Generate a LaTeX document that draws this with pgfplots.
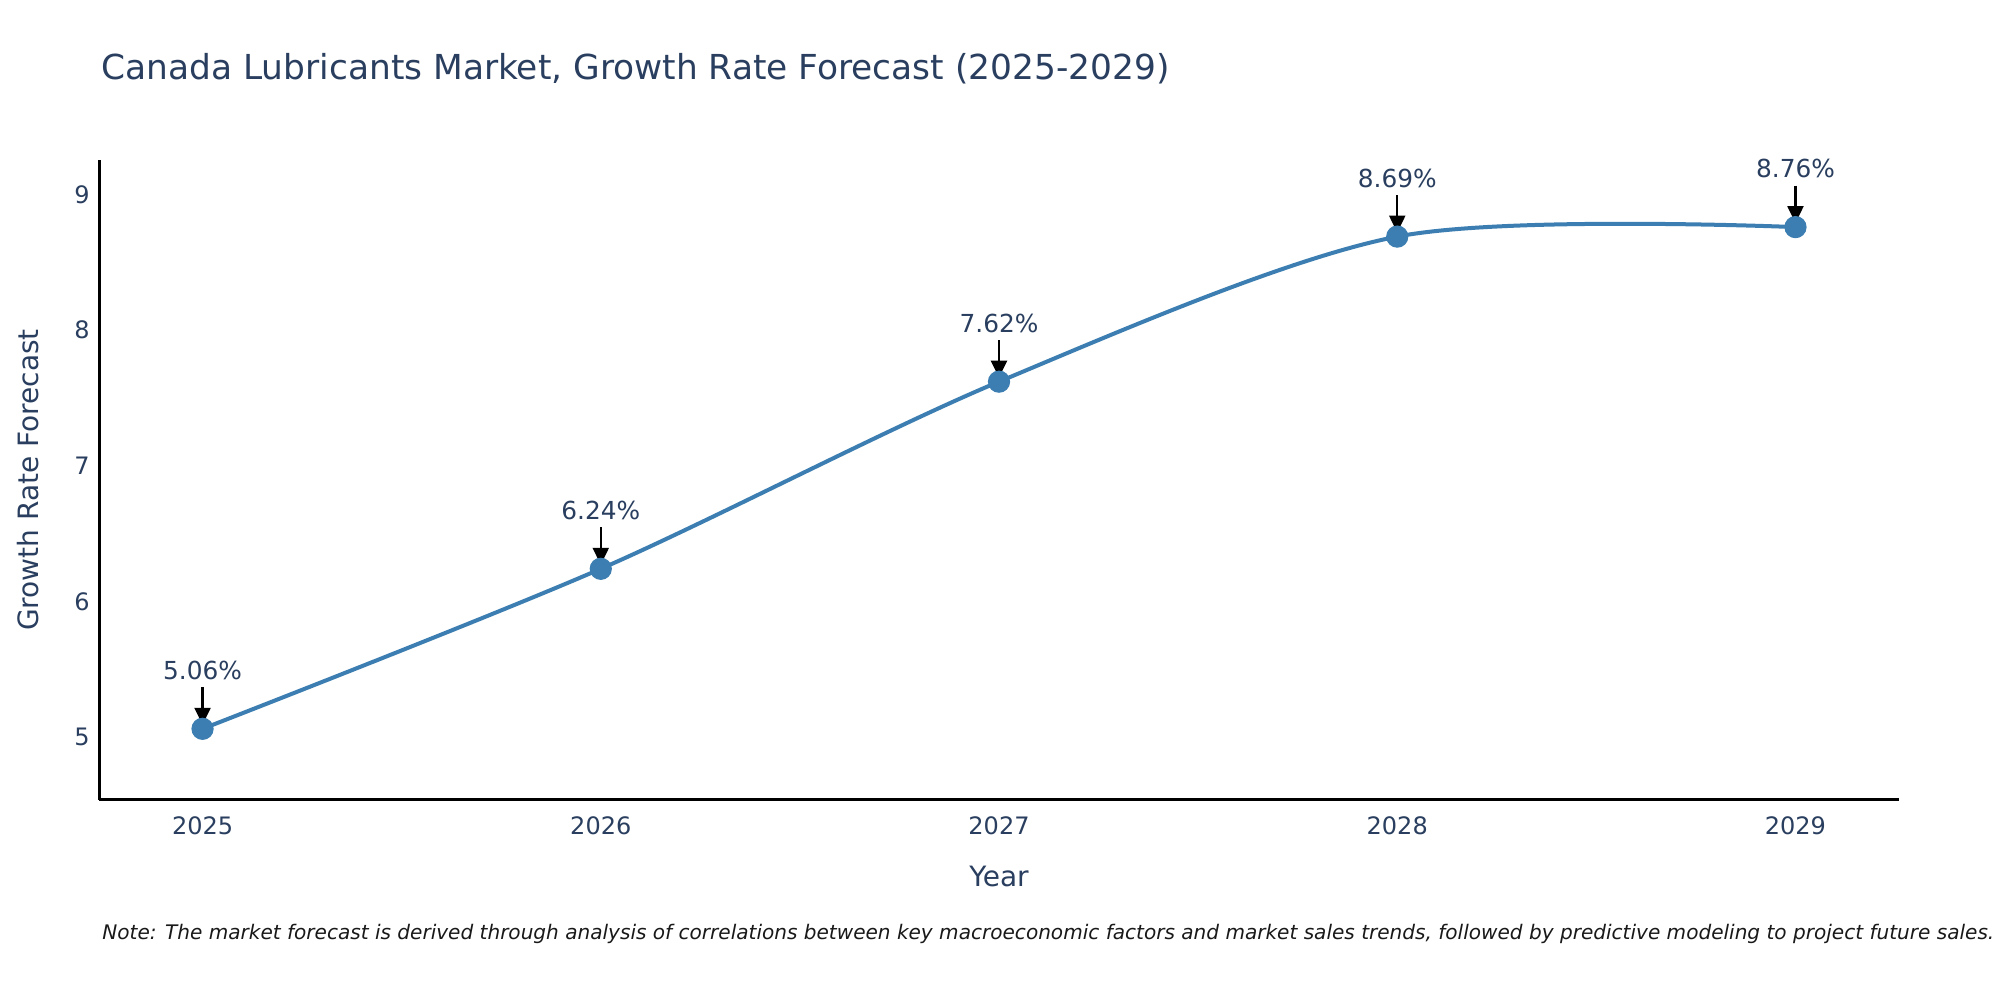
\documentclass[border=0pt]{standalone}
\usepackage{fontspec}
\setmainfont{DejaVu Sans}
\usepackage{pgfplots}
\pgfplotsset{compat=1.18}
\usetikzlibrary{arrows.meta}
\definecolor{txt}{HTML}{2A3F5F}
\definecolor{ln}{RGB}{60,126,177}
\tikzset{ann/.style={black, line width=1.1pt, -{Triangle[width=8pt,length=8.5pt]}},
         annt/.style={text=txt, font=\fontsize{12.4}{14}\selectfont, inner sep=0pt}}
\begin{document}
\begin{tikzpicture}
\useasboundingbox (0pt,0pt) rectangle (1000pt,500pt);
\fill[white] (0pt,0pt) rectangle (1000pt,500pt);
\node[anchor=base west, text=txt, font=\fontsize{17.2}{20}\selectfont, inner sep=0pt] at (50.5pt,460.3pt) {Canada Lubricants Market, Growth Rate Forecast (2025-2029)};
\begin{axis}[
  at={(49.5pt,100pt)}, anchor=south west, scale only axis,
  width=900pt, height=320pt,
  xmin=2024.74, xmax=2029.26, ymin=4.535, ymax=9.255,
  axis x line*=bottom, axis y line*=left,
  axis line style={line width=1.5pt, black, -},
  xtick={2025,2026,2027,2028,2029}, ytick={5,6,7,8,9},
  major tick length=0pt,
  /pgf/number format/assume math mode=true,
  /pgf/number format/1000 sep={},
  ticklabel style={font=\fontsize{12}{14}\selectfont, text=txt},
  xticklabel style={inner sep=0pt, anchor=north, yshift=-8pt},
  yticklabel style={inner sep=0pt, anchor=east, xshift=-4.5pt},
  clip=false,
]
\addplot[color=ln, line width=2pt, smooth, mark=*, mark size=5.3pt, mark options={fill=ln, draw=ln, line width=0.5pt}] coordinates {
  (2025,5.06) (2026,6.24) (2027,7.62) (2028,8.69) (2029,8.76)
};
\draw[ann] ([yshift=20.7pt]axis cs:2025,5.06) -- ([yshift=2pt]axis cs:2025,5.06);
\draw[ann] ([yshift=20.7pt]axis cs:2026,6.24) -- ([yshift=2pt]axis cs:2026,6.24);
\draw[ann] ([yshift=20.7pt]axis cs:2027,7.62) -- ([yshift=2pt]axis cs:2027,7.62);
\draw[ann] ([yshift=20.7pt]axis cs:2028,8.69) -- ([yshift=2pt]axis cs:2028,8.69);
\draw[ann] ([yshift=20.7pt]axis cs:2029,8.76) -- ([yshift=2pt]axis cs:2029,8.76);
\node[annt] at ([yshift=29.3pt]axis cs:2025,5.06) {5.06\%};
\node[annt] at ([yshift=29.3pt]axis cs:2026,6.24) {6.24\%};
\node[annt] at ([yshift=29.3pt]axis cs:2027,7.62) {7.62\%};
\node[annt] at ([yshift=29.3pt]axis cs:2028,8.69) {8.69\%};
\node[annt] at ([yshift=29.3pt]axis cs:2029,8.76) {8.76\%};
\end{axis}
\node[text=txt, font=\fontsize{14}{17}\selectfont, rotate=90] at (14pt,260pt) {Growth Rate Forecast};
\node[text=txt, font=\fontsize{14}{17}\selectfont] at (499.5pt,62pt) {Year};
\node[anchor=base west, font=\fontsize{10.03}{12}\selectfont\itshape, inner sep=0pt, text=black!90] at (51pt,30pt) {Note: The market forecast is derived through analysis of correlations between key macroeconomic factors and market sales trends, followed by predictive modeling to project future sales.};
\end{tikzpicture}
\end{document}
